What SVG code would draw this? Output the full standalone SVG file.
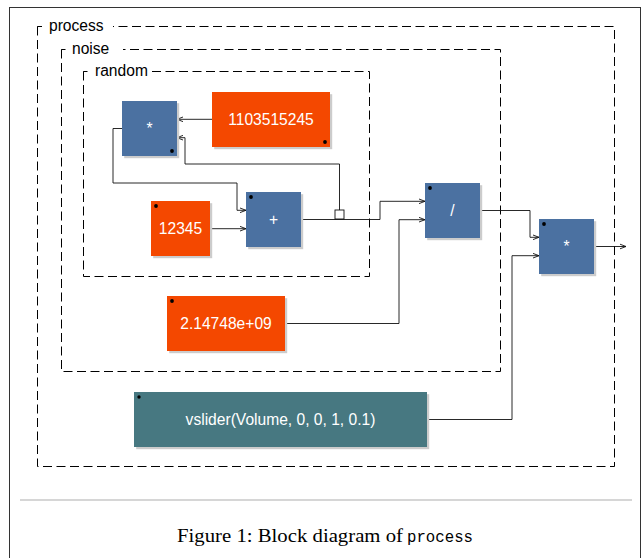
<svg xmlns="http://www.w3.org/2000/svg" width="643" height="558" viewBox="0 0 643 558">
<style>
.frame{fill:none;stroke:#333;stroke-width:1}
.grp{fill:none;stroke:#000;stroke-width:1;stroke-dasharray:9,4.5}
.grpc{fill:none;stroke:#000;stroke-width:1}
.glabel{font-family:"Liberation Sans",Arial,sans-serif;font-size:15.6px;fill:#000}
.shadow{fill:#cccccc}
.blue{fill:#4b71a1}
.orange{fill:#f44800}
.teal{fill:#477881}
.dot{fill:#000}
.ntext{font-family:"Liberation Sans",Arial,sans-serif;font-size:15.6px;fill:#fff;text-anchor:middle}
.wire{fill:none;stroke:#111;stroke-width:0.9}
.arrow{fill:none;stroke:#111;stroke-width:0.9;marker-end:url(#arr)}
</style>
<defs>
<marker id="arr" markerUnits="userSpaceOnUse" markerWidth="8" markerHeight="6" refX="6" refY="2.5" orient="auto" overflow="visible">
<path d="M0,0.2 L6,2.5 L0,4.8" fill="none" stroke="#111" stroke-width="0.9"/>
</marker>
</defs>
<rect class="frame" x="9.5" y="7.5" width="631" height="560" fill="#fff"/>

<g id="groups">
<g id="g_process">
<path class="grp" d="M37.5,26.5 V466.5 H614.5 V26.5 H113"/>
<path class="grpc" d="M37.5,32 V26.5 H42"/>
<text class="glabel" x="49" y="31">process</text>
</g>
<g id="g_noise">
<path class="grp" d="M61.5,49.5 V371.5 H500.5 V49.5 H123"/>
<path class="grpc" d="M61.5,55 V49.5 H65.5"/>
<text class="glabel" x="72" y="54">noise</text>
</g>
<g id="g_random">
<path class="grp" d="M83.5,71.5 V276.5 H369.5 V71.5 H151"/>
<path class="grpc" d="M83.5,77 V71.5 H87.5"/>
<text class="glabel" x="95" y="76">random</text>
</g>
</g>

<g id="connectors">
<line class="arrow" x1="212" y1="119.3" x2="177" y2="119.3"/>
<polyline class="arrow" points="339.5,210 339.5,164 185,164 185,137.7 177,137.7"/>
<rect x="335" y="210" width="9" height="9" fill="#fff" stroke="#111" stroke-width="0.9"/>
<polyline class="arrow" points="122,128.5 113,128.5 113,183 237,183 237,210.3 246,210.3"/>
<line class="arrow" x1="210" y1="228.7" x2="246" y2="228.7"/>
<polyline class="arrow" points="301,219.5 380,219.5 380,201.3 425,201.3"/>
<polyline class="arrow" points="285,323.5 399,323.5 399,219.7 425,219.7"/>
<polyline class="arrow" points="480,210.5 530,210.5 530,237.3 539,237.3"/>
<polyline class="arrow" points="427,419.5 512,419.5 512,255.7 539,255.7"/>
<line class="arrow" x1="594" y1="246.5" x2="626" y2="246.5"/>
</g>

<g id="n_mul1">
<rect class="shadow" x="124.2" y="103.2" width="55" height="55"/>
<rect class="blue" x="122" y="101" width="55" height="55"/>
<circle class="dot" cx="172" cy="151" r="1.9"/>
<text class="ntext" x="149.5" y="133.5">*</text>
</g>
<g id="n_c1103515245">
<rect class="shadow" x="214.2" y="94.2" width="118" height="55"/>
<rect class="orange" x="212" y="92" width="118" height="55"/>
<circle class="dot" cx="325" cy="142" r="1.9"/>
<text class="ntext" x="271" y="125">1103515245</text>
</g>
<g id="n_c12345">
<rect class="shadow" x="153.2" y="203.2" width="59" height="55"/>
<rect class="orange" x="151" y="201" width="59" height="55"/>
<circle class="dot" cx="156" cy="206" r="1.9"/>
<text class="ntext" x="180.5" y="234">12345</text>
</g>
<g id="n_add">
<rect class="shadow" x="248.2" y="194.2" width="55" height="55"/>
<rect class="blue" x="246" y="192" width="55" height="55"/>
<circle class="dot" cx="251" cy="197" r="1.9"/>
<text class="ntext" x="273.5" y="224.5">+</text>
</g>
<g id="n_div">
<rect class="shadow" x="427.2" y="185.2" width="55" height="55"/>
<rect class="blue" x="425" y="183" width="55" height="55"/>
<circle class="dot" cx="430" cy="188" r="1.9"/>
<text class="ntext" x="452.5" y="216">/</text>
</g>
<g id="n_mul2">
<rect class="shadow" x="541.2" y="221.2" width="55" height="55"/>
<rect class="blue" x="539" y="219" width="55" height="55"/>
<circle class="dot" cx="544" cy="224" r="1.9"/>
<text class="ntext" x="566.5" y="251.5">*</text>
</g>
<g id="n_c2_14748e09">
<rect class="shadow" x="169.2" y="298.2" width="118" height="55"/>
<rect class="orange" x="167" y="296" width="118" height="55"/>
<circle class="dot" cx="172" cy="301" r="1.9"/>
<text class="ntext" x="226" y="329">2.14748e+09</text>
</g>
<g id="n_vslider">
<rect class="shadow" x="136.2" y="394.2" width="293" height="55"/>
<rect class="teal" x="134" y="392" width="293" height="55"/>
<circle class="dot" cx="139" cy="397" r="1.7"/>
<text class="ntext" x="280.5" y="425">vslider(Volume, 0, 0, 1, 0.1)</text>
</g>

<line x1="20" y1="500" x2="632" y2="500" stroke="#c8c8c8" stroke-width="1.5"/>
<text x="177" y="542" font-family="'Liberation Serif','Times New Roman',serif" font-size="19.5" fill="#000" textLength="226" lengthAdjust="spacingAndGlyphs">Figure 1: Block diagram of</text>
<text x="407" y="542" font-family="'Liberation Mono','Courier New',monospace" font-size="16.5" fill="#000" textLength="66" lengthAdjust="spacingAndGlyphs">process</text>
</svg>
